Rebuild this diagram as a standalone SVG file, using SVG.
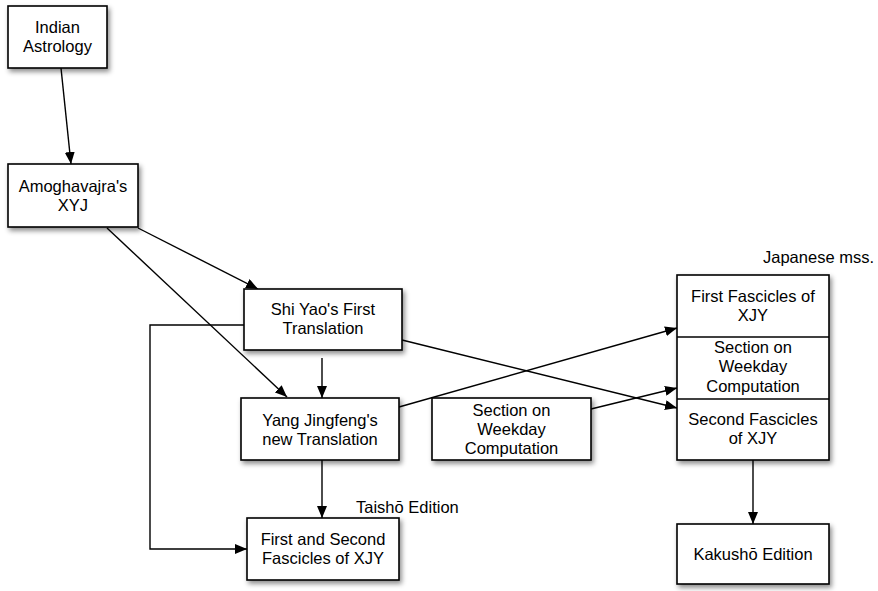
<svg xmlns="http://www.w3.org/2000/svg" width="878" height="591" viewBox="0 0 878 591">
<style>
.box{fill:#fff;stroke:#000;stroke-width:1.6;filter:url(#sh)}
.t{font-family:"Liberation Sans",Arial,sans-serif;font-size:16.5px;fill:#000;text-anchor:middle}
.l{font-family:"Liberation Sans",Arial,sans-serif;font-size:16.5px;fill:#000}
.c{fill:none;stroke:#000;stroke-width:1.4}
</style>
<defs>
<filter id="sh" x="-20%" y="-20%" width="150%" height="150%">
<feDropShadow dx="2" dy="3" stdDeviation="2.5" flood-color="#000" flood-opacity="0.45"/>
</filter>
<marker id="a" viewBox="0 0 12 10" refX="12" refY="5" markerWidth="12" markerHeight="10" markerUnits="userSpaceOnUse" orient="auto">
<path d="M0,0 L12,5 L0,10 Z" fill="#000"/>
</marker>
</defs>
<rect width="878" height="591" fill="#fff"/>
<g id="connectors">
<line class="c" x1="61" y1="68" x2="71" y2="164" marker-end="url(#a)"/>
<line class="c" x1="138" y1="228" x2="258" y2="289" marker-end="url(#a)"/>
<line class="c" x1="107" y1="228" x2="287" y2="397" marker-end="url(#a)"/>
<line class="c" x1="322" y1="358" x2="322" y2="398" marker-end="url(#a)"/>
<polyline class="c" points="244,325 150,325 150,549 247,549" marker-end="url(#a)"/>
<line class="c" x1="402" y1="340" x2="677" y2="408" marker-end="url(#a)"/>
<line class="c" x1="399" y1="407" x2="677" y2="328" marker-end="url(#a)"/>
<line class="c" x1="591" y1="409" x2="677" y2="388" marker-end="url(#a)"/>
<line class="c" x1="322" y1="460" x2="322" y2="518" marker-end="url(#a)"/>
<line class="c" x1="753" y1="460" x2="753" y2="524" marker-end="url(#a)"/>
</g>
<g id="indian">
<rect class="box" x="8" y="6" width="99" height="62"/>
<text class="t" x="57.5" y="33">Indian</text>
<text class="t" x="57.5" y="52">Astrology</text>
</g>
<g id="amogha">
<rect class="box" x="8" y="164" width="130" height="63"/>
<text class="t" x="73" y="192">Amoghavajra's</text>
<text class="t" x="73" y="211">XYJ</text>
</g>
<g id="shiyao">
<rect class="box" x="244" y="289" width="158" height="61"/>
<text class="t" x="323" y="315">Shi Yao's First</text>
<text class="t" x="323" y="334">Translation</text>
</g>
<g id="yang">
<rect class="box" x="241" y="398" width="158" height="62"/>
<text class="t" x="320" y="426">Yang Jingfeng's</text>
<text class="t" x="320" y="445">new Translation</text>
</g>
<g id="weekday">
<rect class="box" x="432" y="398" width="159" height="62"/>
<text class="t" x="511.5" y="416">Section on</text>
<text class="t" x="511.5" y="435">Weekday</text>
<text class="t" x="511.5" y="454">Computation</text>
</g>
<g id="taisho">
<rect class="box" x="247" y="518" width="152" height="62"/>
<text class="t" x="323" y="545">First and Second</text>
<text class="t" x="323" y="564">Fascicles of XJY</text>
<text class="l" x="356" y="513">Taishō Edition</text>
</g>
<g id="japanese">
<rect class="box" x="677" y="275" width="152" height="185"/>
<line x1="677" y1="337" x2="829" y2="337" stroke="#000" stroke-width="1.4"/>
<line x1="677" y1="399" x2="829" y2="399" stroke="#000" stroke-width="1.4"/>
<text class="t" x="753" y="302">First Fascicles of</text>
<text class="t" x="753" y="321">XJY</text>
<text class="t" x="753" y="353">Section on</text>
<text class="t" x="753" y="372">Weekday</text>
<text class="t" x="753" y="392">Computation</text>
<text class="t" x="753" y="425">Second Fascicles</text>
<text class="t" x="753" y="444">of XJY</text>
<text class="l" x="763" y="263">Japanese mss.</text>
</g>
<g id="kakusho">
<rect class="box" x="677" y="524" width="152" height="60"/>
<text class="t" x="753" y="560">Kakushō Edition</text>
</g>
</svg>
